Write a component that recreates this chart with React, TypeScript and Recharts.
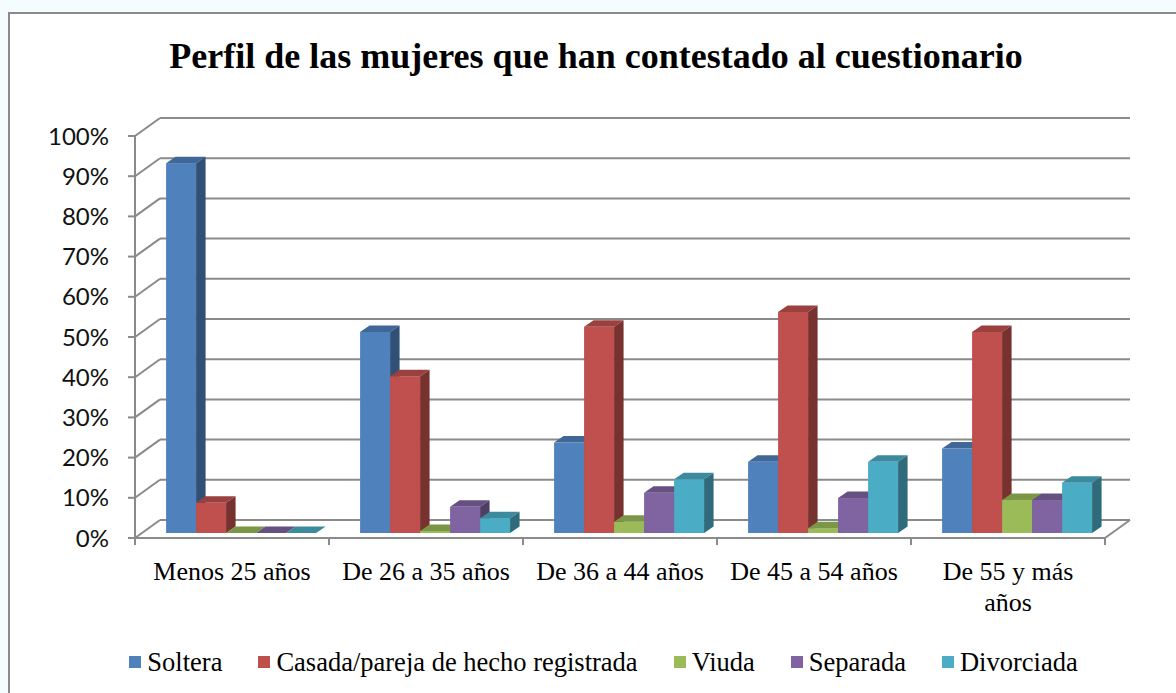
import React from 'react';
import { BarChart, Bar, XAxis, YAxis, CartesianGrid, Legend } from 'recharts';

const categories = ['Menos 25 años', 'De 26 a 35 años', 'De 36 a 44 años', 'De 45 a 54 años', 'De 55 y más años'];
const soltera = [0.92, 0.5, 0.225, 0.177, 0.21];
const casada = [0.075, 0.39, 0.513, 0.55, 0.5];
const viuda = [0, 0.005, 0.028, 0.012, 0.082];
const separada = [0, 0.065, 0.1, 0.087, 0.082];
const divorciada = [0, 0.037, 0.134, 0.177, 0.125];
const seriesNames = ['Soltera', 'Casada/pareja de hecho registrada', 'Viuda', 'Separada', 'Divorciada'];
const seriesColors = ['#4F81BD', '#C0504D', '#9BBB59', '#8064A2', '#4BACC6'];
const yTicks = [0, 0.1, 0.2, 0.3, 0.4, 0.5, 0.6, 0.7, 0.8, 0.9, 1];
const title = 'Perfil de las mujeres que han contestado al cuestionario';

const seriesValues = [soltera, casada, viuda, separada, divorciada];
const data = categories.map((c, i) => {
  const row: Record<string, any> = { name: c };
  seriesNames.forEach((s, k) => {
    row[s] = seriesValues[k][i];
  });
  return row;
});

const GRID = '#8a8a8a';
const WALL_DX = 25;
const WALL_DY = 18;
const SERIF = '"Liberation Serif", "Times New Roman", serif';

function shade(hex: string, f: number) {
  const n = parseInt(hex.slice(1), 16);
  const r = Math.round(((n >> 16) & 255) * f);
  const g = Math.round(((n >> 8) & 255) * f);
  const b = Math.round((n & 255) * f);
  return `rgb(${r},${g},${b})`;
}

const Bar3D = (props: any) => {
  const { x, y, width, height, fill } = props;
  if (x == null || y == null) return null;
  const X = x + 8;
  const Y = y - 5;
  const w = width;
  const h = Math.max(height || 0, 0);
  const dx = 9.5;
  const dy = 6.5;
  return (
    <g>
      <rect x={X} y={Y} width={w} height={h} fill={fill} />
      <polygon
        points={`${X},${Y} ${X + dx},${Y - dy} ${X + w + dx},${Y - dy} ${X + w},${Y}`}
        fill={shade(fill, 0.8)}
      />
      <polygon
        points={`${X + w},${Y} ${X + w + dx},${Y - dy} ${X + w + dx},${Y + h - dy} ${X + w},${Y + h}`}
        fill={shade(fill, 0.62)}
      />
    </g>
  );
};

const gridLine = (props: any) => {
  const { x1, y1, x2, index, y, height } = props;
  const isFloor = y != null && height != null ? Math.abs(y1 - (y + height)) < 1 : index === 0;
  return (
    <g key={`g-${index}-${y1}`}>
      <line x1={x1 + WALL_DX} y1={y1 - WALL_DY} x2={x2 + WALL_DX} y2={y1 - WALL_DY} stroke={GRID} strokeWidth={2} />
      <line x1={x1} y1={y1} x2={x1 + WALL_DX} y2={y1 - WALL_DY} stroke={GRID} strokeWidth={2} />
      {isFloor ? (
        <line x1={x2} y1={y1} x2={x2 + WALL_DX} y2={y1 - WALL_DY} stroke={GRID} strokeWidth={2} />
      ) : null}
    </g>
  );
};

// wrap long category labels: move the last word to a second line
function wrapLabel(s: string): string[] {
  if (s.length <= 15) return [s];
  const i = s.lastIndexOf(' ');
  return [s.slice(0, i), s.slice(i + 1)];
}

const CatTick = (props: any) => {
  const { x, y, payload, index } = props;
  const half = 97;
  const lines = wrapLabel(String(payload.value));
  return (
    <g>
      <line x1={x - half} y1={y} x2={x - half} y2={y + 7} stroke={GRID} strokeWidth={2} />
      {index === categories.length - 1 ? (
        <line x1={x + half} y1={y} x2={x + half} y2={y + 7} stroke={GRID} strokeWidth={2} />
      ) : null}
      <text x={x} y={y + 42} textAnchor="middle" fontFamily={SERIF} fontSize={26} fill="#000">
        {lines.map((l, i) => (
          <tspan key={i} x={x} dy={i === 0 ? 0 : 31}>
            {l}
          </tspan>
        ))}
      </text>
    </g>
  );
};

const renderLegend = () => {
  return (
    <div
      style={{
        display: 'flex',
        justifyContent: 'center',
        alignItems: 'center',
        paddingLeft: 31,
        height: 40,
        fontFamily: SERIF,
        fontSize: 26.5,
        color: '#000',
      }}
    >
      {seriesNames.map((name, i) => (
        <div key={name} style={{ display: 'flex', alignItems: 'center', marginRight: i === seriesNames.length - 1 ? 0 : 36 }}>
          <span style={{ display: 'inline-block', width: 12, height: 12, background: seriesColors[i], marginRight: 6 }} />
          <span>{name}</span>
        </div>
      ))}
    </div>
  );
};

export default function App() {
  return (
    <div
      style={{
        position: 'fixed',
        left: 0,
        top: 0,
        width: 1176,
        height: 693,
        overflow: 'hidden',
        background: '#f5fcfe',
      }}
    >
      <div
        style={{
          position: 'absolute',
          left: 8,
          top: 12,
          width: 1240,
          height: 760,
          border: `2px solid ${GRID}`,
          background: '#fff',
        }}
      />
      <div style={{ position: 'absolute', left: 0, top: 0 }}>
        <BarChart
          width={1176}
          height={693}
          data={data}
          margin={{ top: 136, right: 71, left: 75, bottom: 55 }}
          barCategoryGap="11.9%"
          barGap={0}
        >
          <CartesianGrid vertical={false} horizontal={gridLine} />
          <XAxis
            dataKey="name"
            axisLine={{ stroke: GRID, strokeWidth: 2 }}
            tickLine={false}
            tickSize={0}
            tickMargin={0}
            tick={<CatTick />}
            height={60}
            interval={0}
          />
          <YAxis
            domain={[0, 1]}
            ticks={yTicks}
            width={60}
            allowDataOverflow
            tickFormatter={(v: number) => `${Math.round(v * 100)}%`}
            axisLine={{ stroke: GRID, strokeWidth: 2 }}
            tickLine={{ stroke: GRID, strokeWidth: 2 }}
            tickSize={7}
            tickMargin={19}
            tick={{ fontFamily: 'Lato, Carlito, sans-serif', fontSize: 24, fill: '#111' }}
          />
          <Legend
            height={40}
            content={renderLegend}
            wrapperStyle={{ top: 642, left: 0, width: 1176, height: 40, bottom: 'auto' }}
          />
          {seriesNames.map((s, k) => (
            <Bar key={s} dataKey={s} name={s} fill={seriesColors[k]} shape={Bar3D} isAnimationActive={false} />
          ))}
        </BarChart>
      </div>
      <svg width={1176} height={100} style={{ position: 'absolute', left: 0, top: 0, pointerEvents: 'none' }}>
        <text x={596} y={68} textAnchor="middle" fontFamily={SERIF} fontWeight="bold" fontSize={36} fill="#000">
          {title}
        </text>
      </svg>
    </div>
  );
}
